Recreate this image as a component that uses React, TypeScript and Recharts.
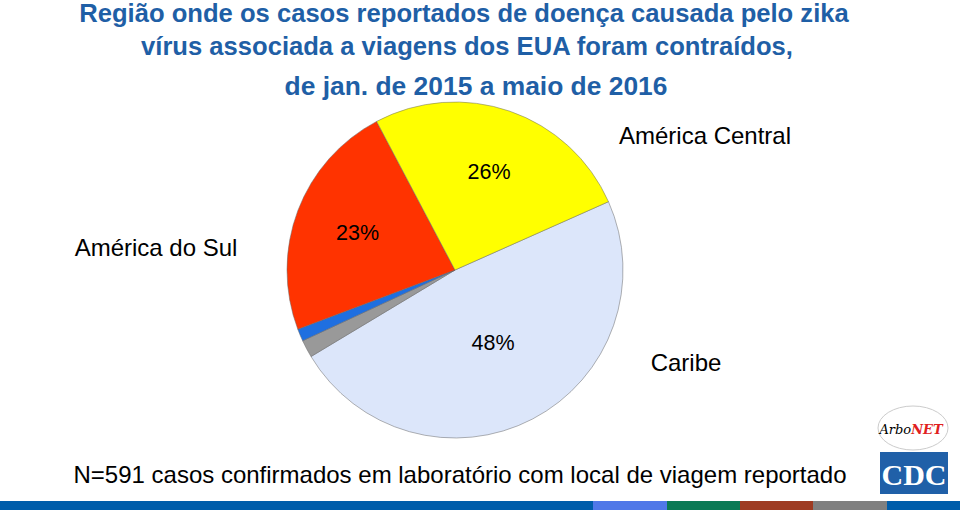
import { PieChart, Pie, Cell } from 'recharts';

// Casos por região (N=591)
const regions = ['Caribe', 'Outros', 'Desconhecido', 'América do Sul', 'América Central'];
const cases = [284, 10, 7, 136, 154];
const sliceColors = ['#dce6fa', '#999999', '#1f6fe0', '#ff3300', '#ffff00'];
const pctLabels = ['48%', '', '', '23%', '26%'];

const titleLines = [
  'Região onde os casos reportados de doença causada pelo zika',
  'vírus associada a viagens dos EUA foram contraídos,',
  'de jan. de 2015 a maio de 2016',
];

const data = regions.map((name, i) => ({ name, value: cases[i] }));

const barColors = ['#005daa', '#5078e8', '#0b7a55', '#9e3b22', '#808080', '#005daa'];
const barWidths = [593, 74, 73, 73, 74, 73];

const FONT = '"Liberation Sans", Arial, sans-serif';

const renderLabel = (props: any) => {
  const { cx, cy, midAngle, outerRadius, index } = props;
  const text = pctLabels[index];
  if (!text) return null;
  const f = index === 0 ? 0.49 : 0.62;
  const rad = (Math.PI / 180) * midAngle;
  const x = cx + outerRadius * f * Math.cos(rad);
  const y = cy - outerRadius * f * Math.sin(rad);
  return (
    <text x={x} y={y} textAnchor="middle" dominantBaseline="central" fontSize={21.5} fontFamily={FONT} fill="#000">
      {text}
    </text>
  );
};

const App = () => {
  let bx = 0;
  return (
    <div style={{ position: 'absolute', left: 0, top: 0, width: 960, height: 510, background: '#fff', overflow: 'hidden', fontFamily: FONT }}>
      <svg width={960} height={510} style={{ position: 'absolute', left: 0, top: 0 }}>
        <g fontFamily={FONT} fontWeight="bold" fill="#1f5fa6" textAnchor="middle">
          <text x={464} y={22} fontSize={25.6}>{titleLines[0]}</text>
          <text x={467} y={55} fontSize={25.6}>{titleLines[1]}</text>
          <text x={476} y={95} fontSize={26.4}>{titleLines[2]}</text>
        </g>
        <g fontFamily={FONT} fontSize={24} fill="#000">
          <text x={705} y={144} textAnchor="middle">América Central</text>
          <text x={156} y={256} textAnchor="middle">América do Sul</text>
          <text x={686} y={371} textAnchor="middle">Caribe</text>
          <text x={460} y={483} textAnchor="middle">N=591 casos confirmados em laboratório com local de viagem reportado</text>
        </g>
        {/* ArboNET logo */}
        <ellipse cx={913} cy={428} rx={35} ry={22} fill="#fff" stroke="#cccccc" strokeWidth={1} />
        <text x={911} y={434} textAnchor="middle" fontSize={13} fontStyle="italic" fontFamily="'DejaVu Serif', serif">
          <tspan fill="#000">Arbo</tspan>
          <tspan fill="#e02020" fontWeight="bold">NET</tspan>
        </text>
        {/* CDC logo */}
        <rect x={880} y={452} width={68} height={42} fill="#2060a8" />
        <text x={914} y={485} textAnchor="middle" fontSize={30} fontWeight="bold" fill="#fff" fontFamily="'Liberation Serif', serif">CDC</text>
        {barColors.map((c, i) => {
          const x = bx;
          bx += barWidths[i];
          return <rect key={i} x={x} y={501} width={barWidths[i]} height={9} fill={c} />;
        })}
      </svg>
      <div style={{ position: 'absolute', left: 0, top: 0 }}>
        <PieChart width={960} height={510} margin={{ top: 0, right: 0, bottom: 0, left: 0 }}>
          <Pie
            data={data}
            dataKey="value"
            nameKey="name"
            cx={455}
            cy={270}
            outerRadius={168}
            startAngle={24}
            endAngle={-336}
            stroke="#666"
            strokeWidth={0.5}
            label={renderLabel}
            labelLine={false}
            isAnimationActive={false}
          >
            {data.map((d, i) => (
              <Cell key={d.name} fill={sliceColors[i]} />
            ))}
          </Pie>
        </PieChart>
      </div>
    </div>
  );
};

export default App;
